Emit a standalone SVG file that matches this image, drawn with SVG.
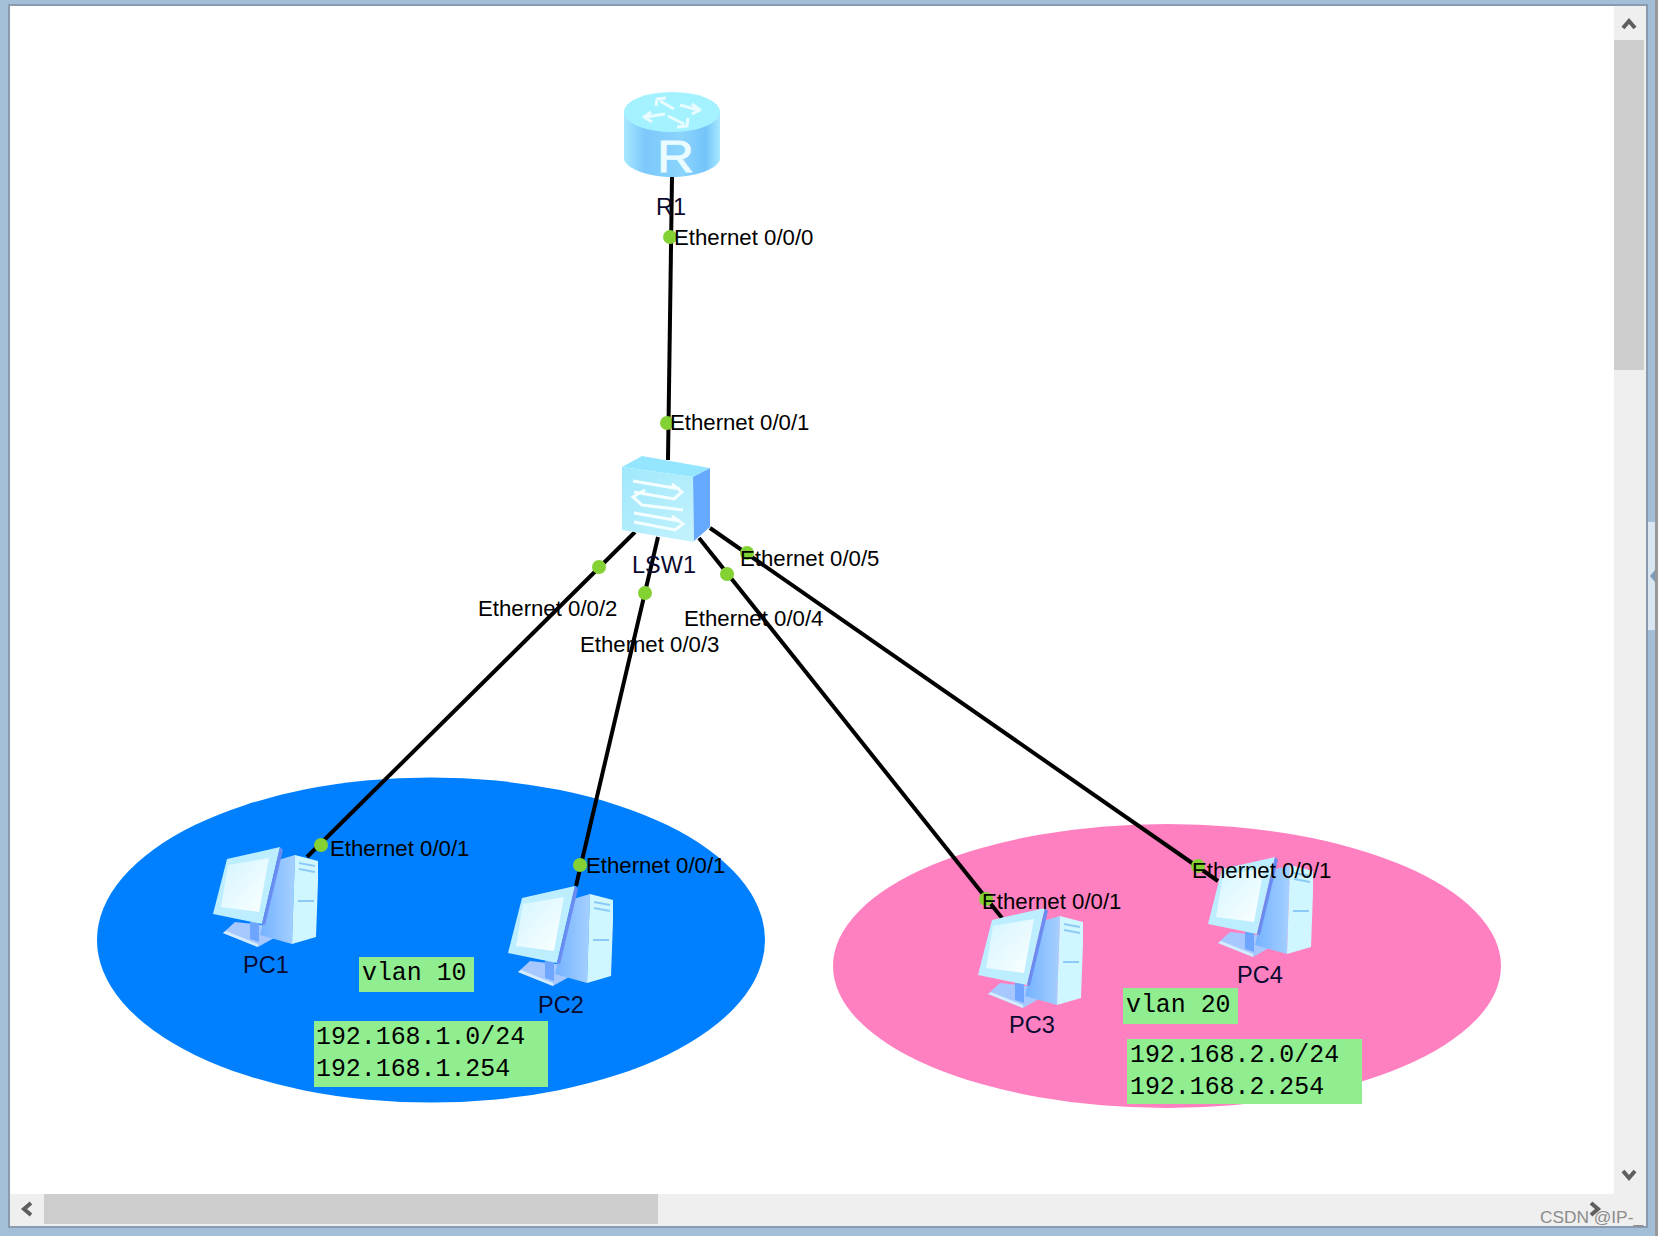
<svg xmlns="http://www.w3.org/2000/svg" width="1658" height="1236" viewBox="0 0 1658 1236">
<style>
.lbl{font-family:"Liberation Sans",Arial,sans-serif;font-size:22.200px;fill:#000}
.name{font-family:"Liberation Sans",Arial,sans-serif;font-size:23.500px;fill:#0a0a30}
.mono{font-family:"Liberation Mono","DejaVu Sans Mono",monospace;font-size:24.900px;fill:#000}
.link{stroke:#000;stroke-width:4;fill:none}
.dot{fill:#84d134}
.note{fill:#90ee90}
.arrow{fill:none;stroke:#5f5f5f;stroke-width:4}
.wh{fill:none;stroke:#e8fcff;stroke-width:3;stroke-linejoin:round}
.wh2{fill:none;stroke:#f4feff;stroke-width:3;stroke-linejoin:miter}
</style>
<defs>
<linearGradient id="cyl" x1="0" x2="1" y1="0" y2="0">
<stop offset="0" stop-color="#a8e8ff"/><stop offset=".22" stop-color="#7cc8fb"/><stop offset=".6" stop-color="#8ad4fd"/><stop offset=".85" stop-color="#74c4fa"/><stop offset="1" stop-color="#a8e8ff"/>
</linearGradient>
<linearGradient id="front" x1="0" x2="1" y1="0" y2="1">
<stop offset="0" stop-color="#9fe8fb"/><stop offset="1" stop-color="#c4f2fd"/>
</linearGradient>
<linearGradient id="scr" x1="0" x2="1" y1="0" y2="1">
<stop offset="0" stop-color="#d4f5ff"/><stop offset="1" stop-color="#fbffff"/>
</linearGradient>
<linearGradient id="twr" x1="0" x2="1" y1="0" y2="0">
<stop offset="0" stop-color="#74b2ff"/><stop offset="1" stop-color="#a6d0ff"/>
</linearGradient>
<g id="pc">
<path d="M235 922 L223 933 L258 947 L274 938 L262 925 Z" fill="#a6c8ff"/>
<path d="M223 933 L258 947 L258 944 L226 931 Z" fill="#d4ecff"/>
<path d="M250 922 h9 v20 l-9 -3 Z" fill="#6ea6ff"/>
<path d="M278 860 L295 855 L292 944 L260 935 Z" fill="url(#twr)"/>
<path d="M295 855 L318 861 L318 882 L316 937 L292 944 Z" fill="#d0f6ff"/>
<path d="M299 863 L315 866 M299 869 L315 872 M298 901 L314 901" stroke="#8ccbf5" stroke-width="2" fill="none"/>
<path d="M227 859 L280 847 L262 924 L213 914 Z" fill="#bceeff"/>
<path d="M280 847 L283 850 L265 925 L262 924 Z" fill="#6a8cf0"/>
<path d="M269 858 L228 865 L221 907 L259 912 Z" fill="url(#scr)"/>
</g>
</defs>
<g id="frame">
<rect width="1658" height="1236" fill="#a3bfd8"/>
<rect x="1655" width="3" height="1236" fill="#999"/>
<rect x="8" y="4" width="1640" height="1224" fill="#8a9bb0"/>
<rect x="10" y="6" width="1636" height="1220" fill="#fff"/>
<rect x="1614" y="6" width="32" height="1220" fill="#efefef"/>
<rect x="10" y="1194" width="1636" height="32" fill="#efefef"/>
<rect x="1614" y="40" width="30" height="330" fill="#cdcdcd"/>
<rect x="44" y="1194" width="614" height="30" fill="#cdcdcd"/>
<path class="arrow" d="M1623 28 L1629 21 L1635 28"/>
<path class="arrow" d="M1623 1171 L1629 1178 L1635 1171"/>
<path class="arrow" d="M31 1203 L24 1209 L31 1215"/>
<path class="arrow" d="M1591 1203 L1598 1209 L1591 1215"/>
<rect x="1648" y="522" width="7" height="108" fill="#d8e6f2"/>
<path d="M1650 576 L1655 570 V582 Z" fill="#7c9cb8"/>
</g>
<g id="vlan10-area"><ellipse cx="431" cy="940" rx="334" ry="162.500" fill="#0080ff"/></g>
<g id="vlan20-area"><ellipse cx="1167" cy="966" rx="334" ry="142" fill="#ff80c0"/></g>
<g id="connectors">
<path class="link" d="M672 177 L668 460"/>
<path class="link" d="M635 532 L307 857"/>
<path class="link" d="M658 537 L576 886"/>
<path class="link" d="M699 538 L1002 918"/>
<path class="link" d="M710 528 L1218 881"/>
</g>
<g id="R1">
<path d="M624 112 V160 C628 170 650 177 672 177 C694 177 716 170 720 160 V112 Z" fill="url(#cyl)"/>
<ellipse cx="672" cy="112" rx="48" ry="20" fill="#a4f2ff"/>
<path class="wh" d="M674 109 L660 101 M656 106 L657 99 L666 98"/>
<path class="wh" d="M680 105 L698 110 M692 104 L700 110 L692 114"/>
<path class="wh" d="M668 116 L684 124 M688 118 L687 126 L677 127"/>
<path class="wh" d="M665 114 L646 117 M651 112 L644 117 L652 122"/>
<text x="657" y="172" textLength="37" lengthAdjust="spacingAndGlyphs" stroke="#eafcff" stroke-width=".8" style="font-family:'Liberation Sans',Arial,sans-serif;font-size:44px;fill:#eafcff">R</text>
<text class="name" x="656" y="215">R1</text>
</g>
<g id="LSW1">
<path d="M622 467 L642 456 L710 468 L693 477 Z" fill="#94e6ff"/>
<path d="M622 467 L693 477 L694 542 L622 530 Z" fill="url(#front)"/>
<path d="M693 477 L710 468 L710 527 L694 541 Z" fill="#66aaff"/>
<path class="wh2" d="M633 481 L680 489 M672 484 L682 492 L674 499 L634 492 M645 490 L633 497 L642 505 L683 510 M634 513 L680 521 M672 516 L683 524 L675 530 L634 522"/>
<text class="name" x="632" y="573">LSW1</text>
</g>
<g id="PC1"><use href="#pc"/><text class="name" x="243" y="973">PC1</text></g>
<g id="PC2"><use href="#pc" x="295" y="39"/><text class="name" x="538" y="1013">PC2</text></g>
<g id="PC3"><use href="#pc" x="765" y="61"/><text class="name" x="1009" y="1033">PC3</text></g>
<g id="PC4"><use href="#pc" x="995" y="10"/><text class="name" x="1237" y="983">PC4</text></g>
<g id="ports">
<circle class="dot" cx="670" cy="237" r="7"/>
<circle class="dot" cx="667" cy="423" r="7"/>
<circle class="dot" cx="599" cy="567" r="7"/>
<circle class="dot" cx="645" cy="593" r="7"/>
<circle class="dot" cx="727" cy="574" r="7"/>
<circle class="dot" cx="747" cy="553" r="7"/>
<circle class="dot" cx="321" cy="845" r="7"/>
<circle class="dot" cx="580" cy="865" r="7"/>
<circle class="dot" cx="986" cy="899" r="7"/>
<circle class="dot" cx="1198" cy="866" r="7"/>
<text class="lbl" x="674" y="245">Ethernet 0/0/0</text>
<text class="lbl" x="670" y="430">Ethernet 0/0/1</text>
<text class="lbl" x="740" y="566">Ethernet 0/0/5</text>
<text class="lbl" x="684" y="626">Ethernet 0/0/4</text>
<text class="lbl" x="478" y="616">Ethernet 0/0/2</text>
<text class="lbl" x="580" y="652">Ethernet 0/0/3</text>
<text class="lbl" x="330" y="856">Ethernet 0/0/1</text>
<text class="lbl" x="586" y="873">Ethernet 0/0/1</text>
<text class="lbl" x="982" y="909">Ethernet 0/0/1</text>
<text class="lbl" x="1192" y="878">Ethernet 0/0/1</text>
</g>
<g id="note-vlan10">
<rect class="note" x="359" y="957" width="115" height="35"/>
<text class="mono" x="362" y="980">vlan 10</text>
</g>
<g id="note-net1">
<rect class="note" x="314" y="1021" width="234" height="66"/>
<text class="mono" x="316" y="1044">192.168.1.0/24</text>
<text class="mono" x="316" y="1076">192.168.1.254</text>
</g>
<g id="note-vlan20">
<rect class="note" x="1123" y="988" width="115" height="36"/>
<text class="mono" x="1126" y="1012">vlan 20</text>
</g>
<g id="note-net2">
<rect class="note" x="1127" y="1039" width="235" height="65"/>
<text class="mono" x="1130" y="1062">192.168.2.0/24</text>
<text class="mono" x="1130" y="1094">192.168.2.254</text>
</g>
<text x="1540" y="1223" style="font-family:'Liberation Sans',Arial,sans-serif;font-size:17.300px;fill:#8c8c8c">CSDN @IP-_</text>
</svg>
